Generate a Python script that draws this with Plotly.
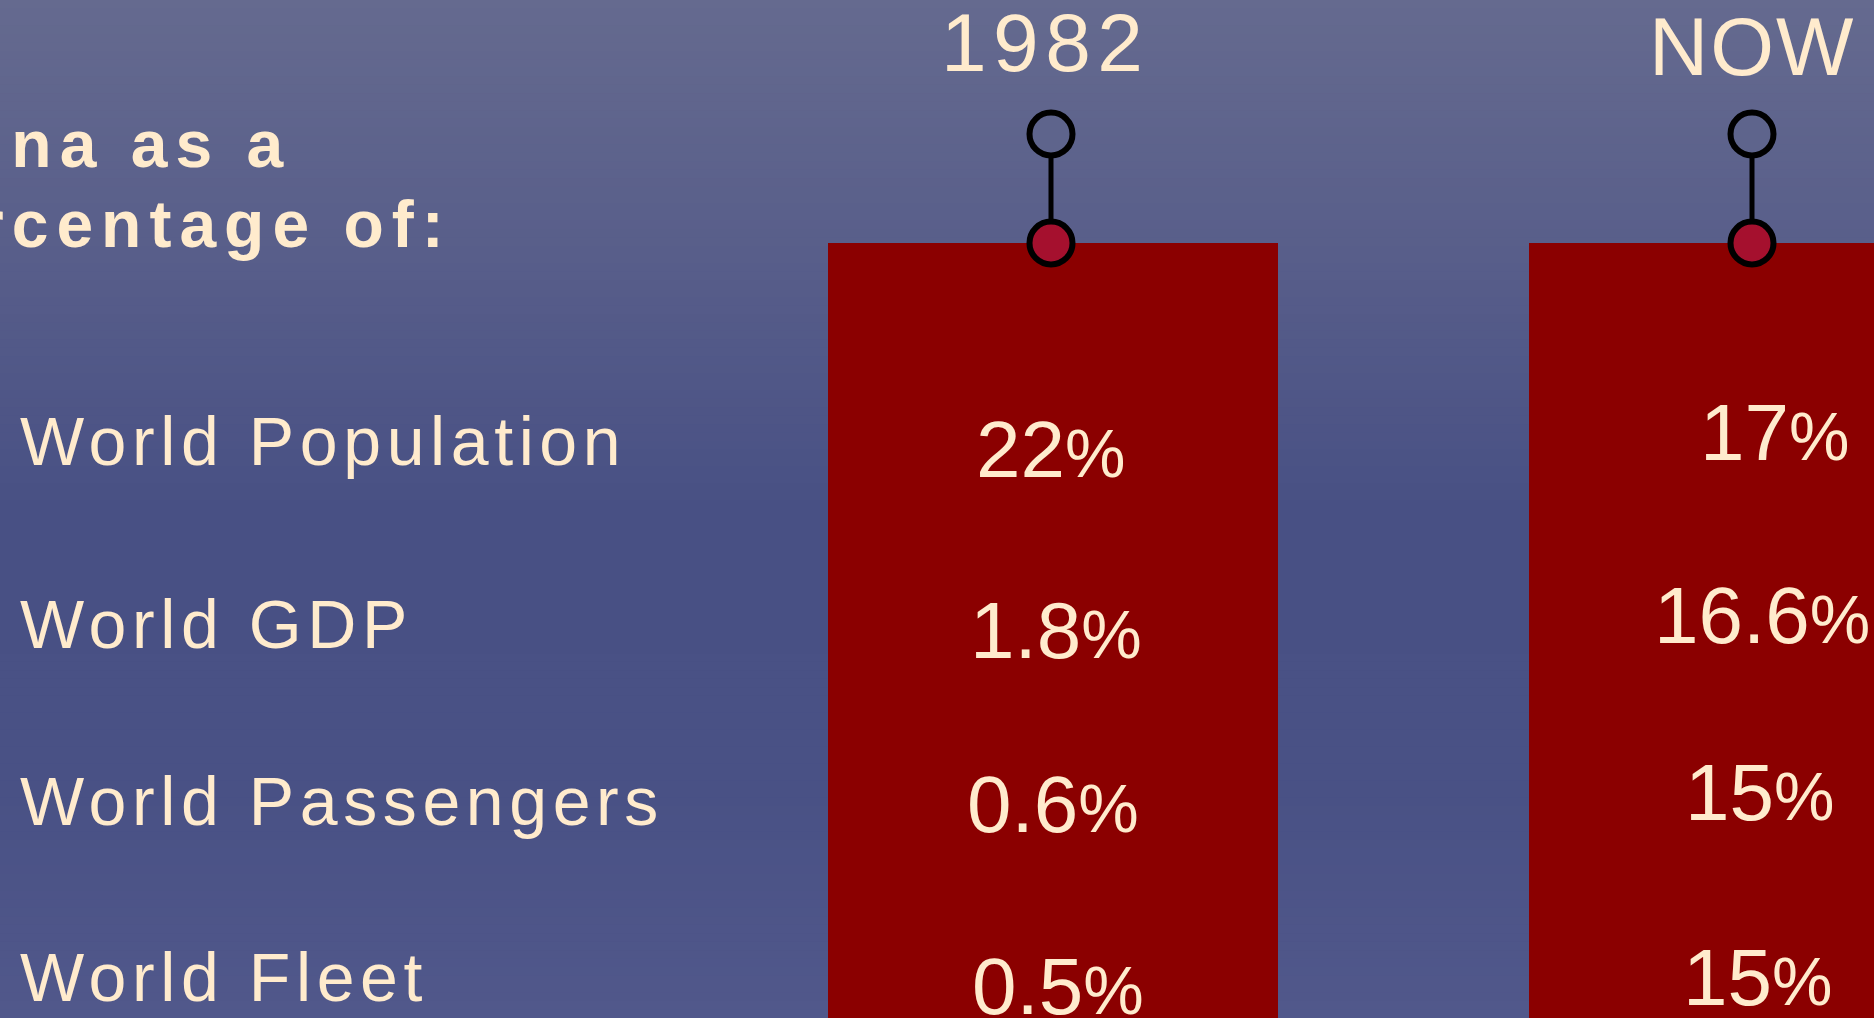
import plotly.graph_objects as go

# ---------------- data ----------------
periods = ["1982", "NOW"]
categories = ["World Population", "World GDP", "World Passengers", "World Fleet"]
values_1982 = [22, 1.8, 0.6, 0.5]
values_now = [17, 16.6, 15, 15]
title_lines = ["China as a", "percentage of:"]

# ---------------- styling / layout constants ----------------
W, H = 1874, 1018
CREAM = "#FFEBCD"
BAR_RED = "#8B0000"
DOT_RED = "#A5102E"
ROW_PX = 178.7          # pixels per row unit
ROW0_PX = 441           # pixel of first row
Y_TOP = -ROW0_PX / ROW_PX
Y_BOT = (H - ROW0_PX) / ROW_PX
COL_PX = 701
COL0_PX = 1051
X_LEFT = -COL0_PX / COL_PX
X_RIGHT = (W - COL0_PX) / COL_PX

def px_to_y(p):
    return (p - ROW0_PX) / ROW_PX

BAR_TOP = px_to_y(243)
PIN_TOP = px_to_y(134)
HEADER_Y = px_to_y(44)

# small hand offsets (pixels) of labels in the original slide
val_dx = {"1982": [-1, 5, 2, 7], "NOW": [22, 10, 7, 5]}
val_dy = {"1982": [-8, -11, -6, -9], "NOW": [9, 4, 6, 0]}
lab_dy = [0, -4, -3, 0]
head_dx = {"1982": -6, "NOW": 0}
head_dy = {"1982": 2, "NOW": -2}
head_ls = {"1982": 6.5, "NOW": 2}
title_x_px = [-121, -117]
title_cy_px = [144, 224]

fig = go.Figure()

# background gradient bands
stops = [(0.0, (101, 106, 143)), (0.25, (88, 94, 138)), (0.5, (72, 80, 132)),
         (0.78, (73, 81, 133)), (1.0, (81, 88, 139))]

def grad(t):
    for (t0, c0), (t1, c1) in zip(stops[:-1], stops[1:]):
        if t0 <= t <= t1:
            f = (t - t0) / (t1 - t0)
            return tuple(round(a + (b - a) * f) for a, b in zip(c0, c1))
    return stops[-1][1]

N = 120
shapes = []
for i in range(N):
    t = (i + 0.5) / N
    r, g, b = grad(t)
    shapes.append(dict(type="rect", xref="paper", yref="paper", x0=0, x1=1,
                       y0=1 - (i + 1) / N - 0.001, y1=1 - i / N,
                       fillcolor=f"rgb({r},{g},{b})", line=dict(width=0),
                       layer="below"))

# red columns
BAR_W = 450 / COL_PX
fig.add_trace(go.Bar(
    x=periods, y=[Y_BOT - BAR_TOP + 2] * len(periods), base=[BAR_TOP] * len(periods),
    width=BAR_W, offset=-BAR_W / 2 + 2 / COL_PX,
    marker=dict(color=BAR_RED, line=dict(width=0)),
    hoverinfo="skip", showlegend=False))

# pins on top of the columns
pin_bg = "rgb(%d,%d,%d)" % grad(134 / H)
for p in periods:
    fig.add_trace(go.Scatter(
        x=[p, p], y=[PIN_TOP, BAR_TOP], mode="lines+markers",
        line=dict(color="black", width=5),
        marker=dict(size=43, color=[pin_bg, DOT_RED], line=dict(color="black", width=6)),
        hoverinfo="skip", showlegend=False))

annotations = []

# column headers (category index used as x position)
for k, p in enumerate(periods):
    annotations.append(dict(
        x=k, y=HEADER_Y, xref="x", yref="y", showarrow=False,
        text=f'<span style="letter-spacing:{head_ls[p]}px">{p}</span>',
        font=dict(family="Liberation Sans, Arial, sans-serif", size=82, color=CREAM),
        xanchor="center", yanchor="middle", xshift=head_dx[p], yshift=head_dy[p]))

# category labels
for i, c in enumerate(categories):
    annotations.append(dict(
        x=18 / W, y=i, xref="paper", yref="y", showarrow=False,
        text=f'<span style="letter-spacing:5.6px">{c}</span>',
        font=dict(family="Liberation Sans, Arial, sans-serif", size=68, color=CREAM),
        xanchor="left", yanchor="middle", yshift=lab_dy[i]))

# values
for k, (p, vals) in enumerate(zip(periods, [values_1982, values_now])):
    for i, v in enumerate(vals):
        annotations.append(dict(
            x=k, y=i, xref="x", yref="y", showarrow=False,
            text=f'{v:g}<span style="font-size:68px">%</span>',
            font=dict(family="Liberation Sans, Arial, sans-serif", size=80, color=CREAM),
            xanchor="center", yanchor="middle",
            xshift=val_dx[p][i], yshift=val_dy[p][i]))

# title (cropped at the left edge, as in the slide)
for line, xp, cy in zip(title_lines, title_x_px, title_cy_px):
    annotations.append(dict(
        x=xp / W, y=1 - cy / H, xref="paper", yref="paper", showarrow=False,
        text=f'<span style="letter-spacing:8px">{line}</span>',
        font=dict(family="Liberation Sans, Arial, sans-serif", size=66, color=CREAM,
                  weight="bold"),
        xanchor="left", yanchor="middle"))

fig.update_layout(
    width=W, height=H, margin=dict(l=0, r=0, t=0, b=0),
    paper_bgcolor="rgb(72,80,132)", plot_bgcolor="rgba(0,0,0,0)",
    shapes=shapes, annotations=annotations, showlegend=False,
    xaxis=dict(type="category", range=[X_LEFT, X_RIGHT], visible=False, fixedrange=True),
    yaxis=dict(range=[Y_BOT, Y_TOP], visible=False, fixedrange=True),
    bargap=0,
)

fig.write_html(
    "out.html",
    config={"displayModeBar": False},
    post_script="document.body.style.margin='0';document.body.style.overflow='hidden';",
)
